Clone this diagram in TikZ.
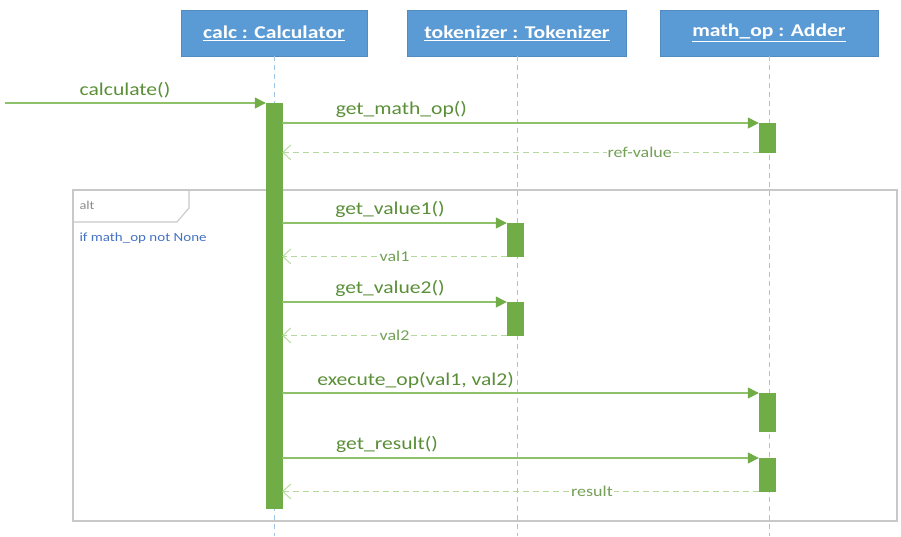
\documentclass[tikz,border=0pt]{standalone}
\usepackage{fontspec}
\setmainfont[FakeStretch=1.2]{Carlito}
\usetikzlibrary{arrows.meta,positioning,calc}
\definecolor{headBlue}{HTML}{5B9BD5}
\definecolor{barGreen}{HTML}{70AD47}
\definecolor{lineGreen}{HTML}{8DC26A}
\definecolor{retGreen}{HTML}{B5D99C}
\definecolor{textGreen}{HTML}{5A8F38}
\definecolor{lifeBlue}{HTML}{9DC3E6}
\definecolor{frameGray}{HTML}{C8C8C8}
\definecolor{condBlue}{HTML}{4472C4}
\tikzset{
	headNode/.style={
		draw=headBlue!90!black,
		fill=headBlue,
		text=white,
		font=\fontsize{18}{21}\selectfont\bfseries,
		minimum height=46pt,
		inner sep=2pt
	},
	actBar/.style={
		draw=barGreen,
		fill=barGreen,
		anchor=north,
		inner sep=0pt,
		minimum width=16pt,
		minimum height=#1
	},
	lifeLine/.style={
		draw=lifeBlue,
		line width=0.9pt,
		dash pattern=on 5pt off 4pt
	},
	msgArrow/.style={
		draw=lineGreen,
		line width=1.3pt,
		-{Triangle[length=11pt,width=11pt,fill=barGreen,color=barGreen]}
	},
	retArrow/.style={
		draw=retGreen,
		line width=1.2pt,
		dash pattern=on 6pt off 4pt,
		-{Straight Barb[length=8pt,width=15pt,line width=0.9pt]}
	},
	msgLabel/.style={
		above=1pt,
		text=textGreen,
		font=\fontsize{18}{21}\selectfont
	},
	retLabel/.style={
		fill=white,
		inner sep=1pt,
		text=textGreen!85!white,
		font=\fontsize{15}{18}\selectfont
	},
	frameLine/.style={
		draw=frameGray,
		line width=1.1pt
	},
}

\begin{document}
\begin{tikzpicture}[x=1pt, y=-1pt]
\useasboundingbox (0,0) rectangle (901,536);

% alt fragment
\draw[frameLine] (73,190) rectangle (897,521);
\draw[frameLine] (73,222) -- (177,222) -- (189,208) -- (189,190);
\node[anchor=west, text=black!45, font=\fontsize{12}{14}\selectfont] (altTag) at (76,205) {alt};
\node[anchor=west, text=condBlue, font=\fontsize{12.5}{15}\selectfont] (altCond) at (76,238) {if math\_op not None};

% participants
\node[headNode, minimum width=186pt] (calcHead) at (274,33) {\underline{calc : Calculator}};
\node[headNode, minimum width=219pt] (tokHead) at (517,33) {\underline{tokenizer : Tokenizer}};
\node[headNode, minimum width=218pt] (mathHead) at (769,33) {\underline{math\_op : Adder}};

\coordinate (bottomEdge) at (0,536);
\coordinate (callerStart) at (5,103);

\path[lifeLine] (calcHead.south) -- (calcHead.south |- bottomEdge);
\path[lifeLine] (tokHead.south) -- (tokHead.south |- bottomEdge);
\path[lifeLine] (mathHead.south) -- (mathHead.south |- bottomEdge);

% activations
\node[actBar=405pt] (calcAct) at (274,103) {};
\node[actBar=29pt] (mathAct1) at (767,123) {};
\node[actBar=33pt] (tokAct1) at (515,223) {};
\node[actBar=33pt] (tokAct2) at (515,302) {};
\node[actBar=38pt] (mathAct2) at (767,393) {};
\node[actBar=33pt] (mathAct3) at (767,458) {};

% messages
\draw[msgArrow] (callerStart) -- node[msgLabel, pos=0.46]{calculate()} (calcAct.north west);
\draw[msgArrow] (calcAct.east |- mathAct1.north) -- node[msgLabel, pos=0.25]{get\_math\_op()} (mathAct1.north west);
\draw[retArrow] (mathAct1.south west) -- node[retLabel, pos=0.25]{ref-value} (calcAct.east |- mathAct1.south);

\draw[msgArrow] (calcAct.east |- tokAct1.north) -- node[msgLabel, pos=0.48]{get\_value1()} (tokAct1.north west);
\draw[retArrow] (tokAct1.south west) -- node[retLabel]{val1} (calcAct.east |- tokAct1.south);

\draw[msgArrow] (calcAct.east |- tokAct2.north) -- node[msgLabel, pos=0.48]{get\_value2()} (tokAct2.north west);
\draw[retArrow] (tokAct2.south west) -- node[retLabel]{val2} (calcAct.east |- tokAct2.south);

\draw[msgArrow] (calcAct.east |- mathAct2.north) -- node[msgLabel, pos=0.28]{execute\_op(val1, val2)} (mathAct2.north west);

\draw[msgArrow] (calcAct.east |- mathAct3.north) -- node[msgLabel, pos=0.22]{get\_result()} (mathAct3.north west);
\draw[retArrow] (mathAct3.south west) -- node[retLabel, pos=0.35]{result} (calcAct.east |- mathAct3.south);

\end{tikzpicture}
\end{document}
